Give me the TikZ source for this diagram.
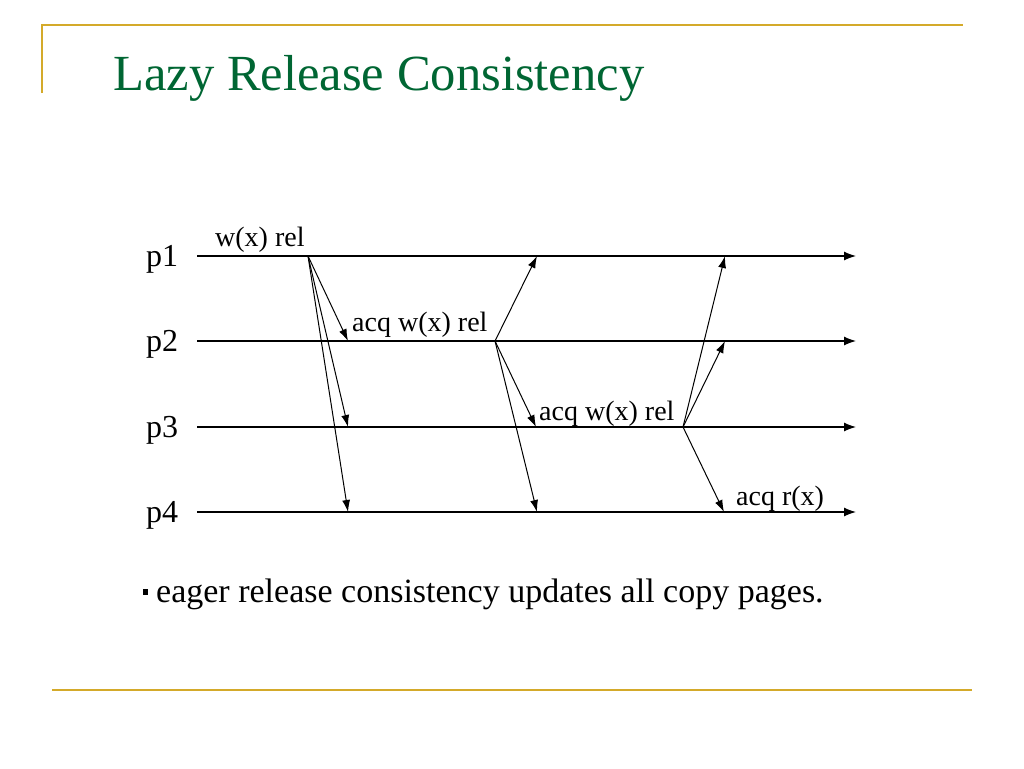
\documentclass[tikz,border=0pt]{standalone}
\usepackage{fontspec}
\setmainfont{Liberation Serif}
\usetikzlibrary{arrows.meta}
\definecolor{gold}{RGB}{212,170,42}
\definecolor{titlegreen}{RGB}{0,102,51}
\begin{document}
\begin{tikzpicture}[x=1pt,y=-1pt,
  timeline/.style={line width=1.2pt,-{Latex[length=12pt,width=9pt]}},
  msg/.style={line width=1pt,-{Latex[length=12pt,width=8pt]}},
  plabel/.style={anchor=base west,inner sep=0pt,font=\fontsize{32}{36}\selectfont},
  evlabel/.style={anchor=base west,inner sep=0pt,font=\fontsize{28}{32}\selectfont},
  rule/.style={draw=gold,line width=2.6pt}]
\useasboundingbox (0,0) rectangle (1024,768);
% frame rules
\coordinate (tl) at (42,25);
\coordinate (tr) at (963,25);
\coordinate (lb) at (42,93);
\coordinate (bl) at (52,690);
\coordinate (br) at (972,690);
\draw[rule] (lb) -- (tl) -- (tr);
\draw[rule] (bl) -- (br);
% title
\node[anchor=base west,inner sep=0pt,text=titlegreen,font=\fontsize{50.6}{56}\selectfont] (title) at (113,90) {Lazy Release Consistency};
% process labels
\node[plabel] (p1) at (146,266) {p1};
\node[plabel] (p2) at (146,351) {p2};
\node[plabel] (p3) at (146,437) {p3};
\node[plabel] (p4) at (146,522) {p4};
% timeline coordinates
\coordinate (s1) at (197,256); \coordinate (t1) at (856,256);
\coordinate (s2) at (197,341); \coordinate (t2) at (856,341);
\coordinate (s3) at (197,427); \coordinate (t3) at (856,427);
\coordinate (s4) at (197,512); \coordinate (t4) at (856,512);
\draw[timeline] (s1) -- (t1);
\draw[timeline] (s2) -- (t2);
\draw[timeline] (s3) -- (t3);
\draw[timeline] (s4) -- (t4);
% events
\coordinate (e1) at (308,256);
\coordinate (e2) at (495,341);
\coordinate (e3) at (683,427);
\coordinate (a12) at (348,341); \coordinate (a13) at (348,427); \coordinate (a14) at (348,512);
\coordinate (a21) at (537,256); \coordinate (a23) at (536,427); \coordinate (a24) at (537,512);
\coordinate (a31) at (725,256); \coordinate (a32) at (725,341); \coordinate (a34) at (724,512);
\draw[msg] (e1) -- (a12);
\draw[msg] (e1) -- (a13);
\draw[msg] (e1) -- (a14);
\draw[msg] (e2) -- (a21);
\draw[msg] (e2) -- (a23);
\draw[msg] (e2) -- (a24);
\draw[msg] (e3) -- (a31);
\draw[msg] (e3) -- (a32);
\draw[msg] (e3) -- (a34);
% event labels
\node[evlabel] (l1) at (215,246) {w(x) rel};
\node[evlabel] (l2) at (352,331) {acq w(x) rel};
\node[evlabel] (l3) at (539,420) {acq w(x) rel};
\node[evlabel] (l4) at (736,505) {acq r(x)};
% bullet text
\fill (143,589) rectangle (148,595);
\node[anchor=base west,inner sep=0pt,font=\fontsize{34}{40}\selectfont] (note) at (156,602) {eager release consistency updates all copy pages.};
\end{tikzpicture}
\end{document}
